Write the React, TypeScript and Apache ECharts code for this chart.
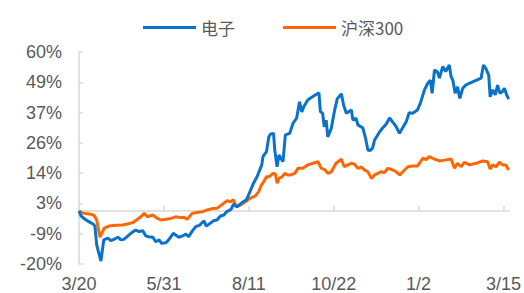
import React, { useEffect, useRef } from "react";
import * as echarts from "echarts";

// x = days since 2025-03-20, y = cumulative return (%)
const eleDays = [0, 1.7, 6, 9, 12, 13.5, 15, 18.6, 21, 24.5, 27, 29.6, 33, 35.6, 38, 41.5, 44, 48, 51, 54, 56.7, 59, 62.7, 65, 68, 70, 73.7, 76, 80, 82, 84.7, 88, 90.6, 93, 95.7, 99, 102.5, 106, 108, 112, 114, 117, 120, 123, 125, 129, 131, 134, 138, 142, 145, 148, 151, 155, 156, 159, 161, 162.6, 165, 166, 168, 169.6, 171, 173, 175, 178.7, 181.5, 184.6, 187, 189, 190.5, 194, 198, 203.5, 204.7, 206.6, 208, 209.6, 211, 214, 216.8, 219, 222.5, 224.4, 226.7, 231, 232.3, 235, 236.5, 240.8, 243, 245, 247, 249, 250.7, 255, 257.5, 260.6, 263.4, 266, 269, 271.8, 274.4, 277.5, 280, 283, 287, 289.6, 293, 295.8, 298, 299.5, 301.5, 304, 305.7, 308.5, 311, 314, 315.6, 317, 319, 321, 323, 325.4, 328, 331, 341, 343, 345, 347.5, 348.7, 350.9, 353, 355, 357, 359, 360.8, 362.7, 364.4];
const eleValues = [0, -1.9, -3.4, -4.2, -4.9, -5.7, -12.8, -18.9, -10.9, -10.2, -11.2, -10.7, -9.9, -10.9, -10.7, -9.4, -8.4, -7.2, -7.8, -7.4, -9.4, -9.7, -9.9, -11.6, -10.9, -12.2, -12.0, -10.9, -8.4, -9.1, -9.9, -9.4, -8.7, -9.7, -7.8, -5.9, -5.3, -3.7, -5.7, -4.4, -3.7, -3.4, -1.9, -1.5, -0.3, 0.6, 2.6, 1.6, 3.1, 4.2, 7.3, 10.5, 12.9, 17.4, 20.5, 22.4, 28.0, 29.1, 29.3, 23.0, 16.7, 21.1, 20.0, 18.6, 28.7, 29.3, 33.1, 35.1, 41.2, 37.4, 39.2, 41.9, 43.1, 44.6, 37.5, 36.9, 31.8, 34.3, 28.0, 31.2, 38.1, 42.3, 44.2, 40.0, 36.9, 38.1, 34.3, 35.0, 32.5, 31.3, 27.5, 23.0, 22.8, 23.8, 26.8, 29.9, 31.3, 32.8, 35.1, 33.6, 31.8, 29.3, 31.3, 33.7, 37.1, 36.9, 38.1, 40.8, 45.7, 48.2, 49.4, 44.4, 53.2, 52.5, 50.2, 54.5, 52.6, 55.1, 50.7, 49.4, 44.4, 46.9, 42.5, 46.3, 47.5, 48.2, 50.1, 55.1, 53.8, 51.3, 43.1, 45.7, 43.8, 47.5, 44.4, 45.0, 46.3, 43.8, 42.2];

const hsDays = [0, 3.4, 8.5, 12.7, 15, 17.8, 21.4, 25.4, 31.3, 37, 41, 45.5, 49.7, 52.5, 55.3, 58, 62.4, 66.6, 69.4, 73.7, 78, 82, 86.4, 89, 91.7, 96, 100, 104.4, 108.7, 113, 117, 121, 125.6, 128.5, 131, 133.6, 137, 141, 145.4, 149.6, 152.4, 154.7, 156.7, 159, 161, 163, 164.6, 166.6, 168, 170, 172, 174.5, 177, 179.5, 183, 185.7, 189.7, 194, 198.4, 202.7, 205.5, 208.3, 211, 214, 218, 222.5, 225, 228, 231, 233.7, 236.5, 239.4, 242, 245, 248, 250.7, 253.5, 256, 259, 262, 266, 269, 272, 274.6, 279, 283, 287, 288.8, 291.6, 294.5, 297, 301.5, 305.7, 310, 315.6, 318.4, 321, 324, 327, 331, 336.8, 342.4, 346.6, 348.7, 350.9, 353.7, 356.5, 359.3, 362, 364.4];
const hsValues = [0, -0.8, -1.1, -1.6, -3.4, -9.9, -6.5, -5.7, -5.4, -5.3, -4.9, -4.4, -3.1, -2.2, -0.9, -2.2, -1.5, -2.8, -3.4, -3.1, -2.8, -2.2, -2.5, -2.4, -3.1, -0.9, -0.6, -0.3, 0.4, 0.9, 1.0, 2.3, 3.9, 3.5, 4.2, 1.6, 2.3, 3.5, 4.9, 5.7, 7.3, 9.8, 11.1, 12.9, 12.9, 13.6, 14.2, 14.0, 10.5, 12.5, 12.8, 14.2, 13.6, 13.6, 14.2, 16.1, 16.1, 17.4, 18.0, 18.6, 16.1, 15.7, 14.2, 14.8, 18.0, 19.5, 16.7, 17.4, 18.0, 17.7, 16.1, 16.6, 15.5, 14.8, 12.3, 13.6, 14.2, 14.8, 14.5, 16.1, 15.5, 14.8, 13.6, 14.8, 16.7, 17.0, 17.0, 18.0, 19.9, 19.4, 20.5, 19.6, 18.9, 19.2, 19.6, 16.1, 18.0, 16.7, 18.4, 17.4, 18.0, 18.9, 18.6, 15.8, 17.4, 16.7, 18.4, 17.4, 17.4, 15.5];

const seriesNames = ["电子", "沪深300"];
const xTickDays = [0, 72, 144, 216, 288, 360];
const yMin = -20;
const yMax = 60;
const ySteps = 7;

const zip = (xs: number[], ys: number[]) => xs.map((x, i) => [x, ys[i]]);

export default function App() {
  const ref = useRef<HTMLDivElement>(null);
  useEffect(() => {
    if (!ref.current) return;
    const chart = echarts.init(ref.current, undefined, { renderer: "svg" });
    const gray = "#595959";
    const font = "'Liberation Sans', Arial, 'Noto Sans CJK SC', sans-serif";
    chart.setOption({
      animation: false,
      legend: {
        data: seriesNames,
        left: 138,
        top: 14,
        icon: "rect",
        itemWidth: 53,
        itemHeight: 3,
        itemGap: 48,
        textStyle: { color: gray, fontSize: 17, fontFamily: "'Noto Sans CJK SC', 'Liberation Sans', sans-serif" },
      },
      grid: { left: 79, right: 14, top: 52, bottom: 29, containLabel: false },
      xAxis: {
        type: "value",
        min: 0,
        max: 365,
        interval: 72,
        splitLine: { show: false },
        axisLine: { show: true, lineStyle: { color: "#D9D9D9", width: 1.5 } },
        axisTick: { show: true, inside: true, length: 5, lineStyle: { color: "#D9D9D9", width: 1.5 }, customValues: xTickDays },
        axisLabel: {
          customValues: xTickDays,
          color: gray,
          fontSize: 18,
          fontFamily: font,
          margin: 11,
          formatter: (v: number) => {
            const d = new Date(2025, 2, 20 + Math.round(v));
            return `${d.getMonth() + 1}/${d.getDate()}`;
          },
        },
      },
      yAxis: {
        type: "value",
        min: yMin,
        max: yMax,
        interval: (yMax - yMin) / ySteps,
        splitLine: { show: false },
        axisLine: { show: true, lineStyle: { color: "#D9D9D9", width: 1.5 } },
        axisTick: { show: true, inside: true, length: 4, lineStyle: { color: "#D9D9D9", width: 1.5 } },
        axisLabel: {
          color: gray,
          fontSize: 18,
          fontFamily: font,
          margin: 17,
          formatter: (v: number) => `${Math.round(v)}%`,
        },
      },
      series: [
        {
          name: seriesNames[0],
          type: "line",
          data: zip(eleDays, eleValues),
          showSymbol: false,
          symbol: "none",
          lineStyle: { color: "#0B72CC", width: 3 },
          itemStyle: { color: "#0B72CC" },
          z: 3,
        },
        {
          name: seriesNames[1],
          type: "line",
          data: zip(hsDays, hsValues),
          showSymbol: false,
          symbol: "none",
          lineStyle: { color: "#FF6600", width: 3 },
          itemStyle: { color: "#FF6600" },
          z: 2,
        },
      ],
    });
    return () => chart.dispose();
  }, []);
  return <div ref={ref} style={{ width: 524, height: 293, position: "absolute", left: 0, top: 0, background: "#fff" }} />;
}
